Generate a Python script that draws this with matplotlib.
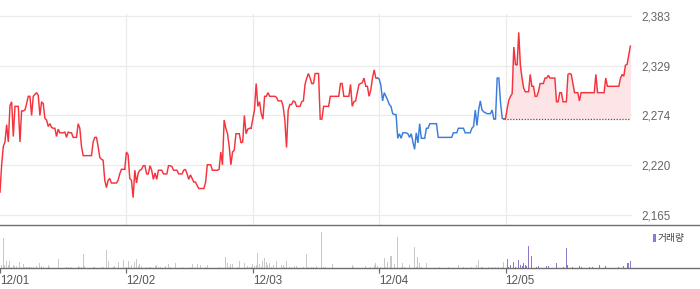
import matplotlib
matplotlib.use("Agg")
import matplotlib.pyplot as plt
from matplotlib.lines import Line2D
from matplotlib.patches import Rectangle
import numpy as np

plt.rcParams['font.family'] = ['Liberation Sans', 'Noto Sans CJK KR', 'DejaVu Sans']

# ---------------- data ----------------
dates = ["12/01", "12/02", "12/03", "12/04", "12/05"]

price_1201 = [2190, 2220, 2240, 2245, 2264, 2245, 2285, 2289, 2251, 2284,
              2284, 2284, 2245, 2279, 2279, 2280, 2287, 2295, 2295, 2274,
              2295, 2297, 2299, 2296, 2274, 2289, 2287, 2271, 2269, 2262,
              2265, 2261, 2260, 2260, 2251, 2259, 2255, 2255, 2255, 2256,
              2250, 2256, 2255, 2255, 2250, 2250, 2250, 2265, 2260, 2240,
              2230, 2230, 2230, 2230, 2230, 2230, 2245, 2250, 2250, 2240,
              2228, 2226, 2225, 2203, 2195, 2203, 2205, 2200, 2200, 2200,
              2200, 2203, 2210, 2215, 2215, 2215]
price_1202 = [2234, 2231, 2205, 2203, 2184, 2214, 2200, 2211, 2214, 2215,
              2219, 2219, 2210, 2210, 2219, 2214, 2204, 2211, 2204, 2214,
              2214, 2214, 2210, 2210, 2210, 2219, 2219, 2218, 2214, 2214,
              2214, 2210, 2210, 2210, 2214, 2215, 2210, 2204, 2209, 2205,
              2201, 2201, 2197, 2194, 2194, 2194, 2194, 2201, 2220, 2220,
              2220, 2214, 2214, 2214, 2214, 2215, 2234, 2220, 2269, 2260,
              2254, 2240, 2220, 2234, 2236, 2254, 2254, 2254, 2244, 2245,
              2274, 2254, 2259, 2260, 2260]
price_1203 = [2270, 2280, 2309, 2284, 2289, 2276, 2270, 2295, 2295, 2299,
              2295, 2295, 2295, 2295, 2294, 2290, 2290, 2290, 2284, 2269,
              2239, 2280, 2286, 2286, 2290, 2289, 2284, 2284, 2284, 2289,
              2290, 2308, 2315, 2320, 2315, 2309, 2309, 2320, 2320, 2320,
              2270, 2270, 2284, 2284, 2284, 2284, 2295, 2295, 2295, 2295,
              2295, 2295, 2309, 2309, 2295, 2295, 2295, 2295, 2308, 2284,
              2289, 2290, 2299, 2308, 2309, 2310, 2315, 2306, 2306, 2295,
              2302, 2315, 2324, 2315, 2315]
price_1204 = [2314, 2307, 2290, 2299, 2295, 2291, 2286, 2284, 2276, 2275,
              2275, 2249, 2254, 2249, 2255, 2255, 2255, 2254, 2250, 2254,
              2245, 2237, 2255, 2244, 2265, 2249, 2249, 2249, 2260, 2260,
              2265, 2265, 2265, 2265, 2265, 2250, 2250, 2250, 2250, 2250,
              2250, 2250, 2250, 2250, 2255, 2255, 2255, 2260, 2260, 2260,
              2260, 2255, 2255, 2255, 2255, 2260, 2262, 2280, 2263, 2280,
              2290, 2280, 2278, 2277, 2276, 2276, 2276, 2280, 2270, 2270,
              2315, 2315, 2288, 2271, 2270]
price_1205 = [2271, 2282, 2291, 2295, 2298, 2349, 2330, 2329, 2365, 2329,
              2315, 2304, 2300, 2300, 2300, 2319, 2306, 2306, 2295, 2295,
              2300, 2309, 2309, 2309, 2315, 2315, 2318, 2315, 2315, 2315,
              2315, 2289, 2289, 2299, 2299, 2289, 2289, 2289, 2319, 2320,
              2319, 2309, 2299, 2299, 2299, 2290, 2299, 2299, 2299, 2299,
              2299, 2299, 2299, 2299, 2299, 2319, 2299, 2299, 2299, 2299,
              2299, 2315, 2306, 2306, 2306, 2306, 2306, 2306, 2306, 2306,
              2315, 2319, 2317, 2329, 2330, 2340, 2350]

vol_1201 = [0, 3, 30, 3.7, 7, 3, 7, 1, 3.7, 2, 2, 0, 6.3, 1.7, 4.3, 1.7, 1, 1, 1, 1,
            1, 0, 2, 0, 5.3, 2.7, 1.3, 0, 0, 3, 1, 0, 0, 0, 0, 9.3, 0, 0, 0, 0,
            1, 1, 0, 1, 0, 0, 0, 2, 1.3, 1, 14.3, 2, 0, 0, 0, 0, 1, 1, 0, 0,
            0, 1, 1, 0, 18.3, 7.7, 0, 0, 1, 2, 0, 6.3, 0, 0, 8, 0]
vol_1202 = [1, 7.7, 1, 3, 0, 6.3, 9, 2, 4.3, 2.3, 0, 0, 1, 0, 1, 0, 0, 2.3, 3.3, 1,
            1, 0, 0, 2.3, 0, 4.3, 1, 0, 0, 5.3, 0, 0, 0, 1, 0, 0, 0, 0, 1, 4.3,
            0, 1, 4.3, 0, 3.3, 0, 0, 1, 3.3, 0, 0, 0, 0, 0, 0, 1, 0, 0, 0, 11.3,
            5.3, 1, 4.3, 4.3, 0, 0, 1, 7.3, 0, 0, 5.3, 0, 2.7, 1, 1]
vol_1203 = [4.3, 2.7, 3.3, 15.3, 4.3, 1, 7, 10, 6, 3.3, 5.3, 1, 3.3, 0, 7.3, 0, 0, 3.3, 3.3, 1,
            7.3, 0, 1, 1, 0, 2, 2, 0, 0, 0, 1, 0, 14.3, 1, 0, 1, 1, 0, 2, 0,
            0, 36.3, 1, 1, 0, 0, 0, 4.3, 0, 0, 0, 0, 0, 0, 0, 0, 0, 0, 0, 3.3,
            1, 0, 0, 0, 0, 0, 0, 2, 0, 0, 1, 0, 3.3, 5.3, 2]
vol_1204 = [0, 1, 0, 10.3, 1, 6.3, 0, 12.3, 0, 4.3, 0, 31.3, 0, 1, 5.3, 1, 0, 0, 3.3, 0,
            0, 21.3, 1, 11.3, 5.3, 1, 0, 0, 5.3, 0, 0, 0, 0, 0, 0, 0, 1, 0, 0, 0,
            0, 1, 0, 0, 0, 0, 0, 3.3, 0, 0, 1, 0, 0, 0, 0, 1, 0, 0, 3.3, 8.3,
            0, 1, 0, 0, 0, 1, 0, 1, 0, 1, 0, 1, 0, 1, 6.3]
vol_1205 = [0, 9, 1, 3.3, 0, 6.3, 1, 0, 8.3, 3.3, 2.7, 5.3, 3, 2.7, 22.3, 0, 12.3, 0, 0, 1,
            2, 0, 0, 0, 0, 2, 2, 0, 0, 0, 0, 5.3, 0, 0, 0, 1, 0, 20.3, 3.3, 0,
            0, 1, 0, 0, 0, 2, 1, 0, 0, 0, 0, 1, 0, 1, 0, 0, 0, 3.3, 0, 0,
            0, 2, 0, 0, 0, 0, 0, 0, 0, 1, 0, 0, 2, 0, 5.3, 5.3, 7.3]

ytick_values = [2165, 2219.5, 2274, 2328.5, 2383]
ytick_labels = ["2,165", "2,220", "2,274", "2,329", "2,383"]
legend_label = "거래량"

prices = [price_1201, price_1202, price_1203, price_1204, price_1205]
vols = [vol_1201, vol_1202, vol_1203, vol_1204, vol_1205]

# ---------------- style ----------------
RED = "#f4333d"
BLUE = "#3b7ddb"
FILL = "#fde4e6"
GRID = "#ebebeb"
SEP = "#6e6e6e"
VOL_GREY = "#c9c9c9"
VOL_PURPLE = "#9077c9"
TXT = "#555555"

W, H = 700, 289
fig = plt.figure(figsize=(W / 100, H / 100), dpi=100)


def frame(left, top, w, h):
    return [left / W, 1 - (top + h) / H, w / W, h / H]


ax = fig.add_axes(frame(0, 14, 632, 211))
axv = fig.add_axes(frame(0, 229, 632, 39.3))

n_days = len(prices)
prev_x, prev_y = None, None
for d, (p, v) in enumerate(zip(prices, vols)):
    n = len(p)
    x = d + np.arange(n) / n
    up = d == 0 or p[-1] >= prices[d - 1][-1]
    color = RED if up else BLUE
    if prev_x is not None:
        xs = np.concatenate([[prev_x], x])
        ys = np.concatenate([[prev_y], p])
    else:
        xs, ys = x, np.array(p)
    if d == n_days - 1:
        base = prices[d - 1][-1]
        ax.fill_between(xs, ys, base, color=FILL, lw=0, zorder=1)
        ax.hlines(base, xs[0], xs[-1], colors="#555555", linestyles=(0, (1, 1.3)),
                  lw=0.9, zorder=2)
    ax.plot(xs, ys, color=color, lw=1.05, zorder=3, solid_joinstyle="miter")
    prev_x, prev_y = x[-1], p[-1]
    bar_color = VOL_PURPLE if d == n_days - 1 else VOL_GREY
    axv.bar(x, v, width=0.6 / n, color=bar_color, lw=0, align="center")

# main axes
ax.set_xlim(0, n_days)
ax.set_ylim(2154.0, 2385.2)
for d in range(1, n_days):
    ax.axvline(d, color=GRID, lw=0.9, zorder=0)
ax.set_yticks(ytick_values)
ax.set_yticklabels(ytick_labels)
ax.yaxis.tick_right()
ax.tick_params(axis="y", length=0, pad=6.5, labelsize=8.4, labelcolor="#666666")
ax.tick_params(axis="x", bottom=False, labelbottom=False)
ax.grid(axis="y", color=GRID, lw=0.9, zorder=0)
for s in ax.spines.values():
    s.set_visible(False)

# volume axes
axv.set_xlim(0, n_days)
axv.set_ylim(0, 39.3)
axv.set_yticks([])
axv.set_xticks(range(n_days))
axv.set_xticklabels(dates, ha="left")
axv.tick_params(axis="x", direction="out", length=3.6, width=0.9, color=SEP,
                labelsize=8.4, labelcolor=TXT, pad=1.5)
for s in axv.spines.values():
    s.set_visible(False)

# separator lines spanning the full width
for ypx in (225, 268.3):
    fig.add_artist(Line2D([0, 1], [1 - ypx / H] * 2, transform=fig.transFigure,
                          color=SEP, lw=1.0))

# legend
fig.add_artist(Rectangle((653 / W, 1 - 241.5 / H), 3 / W, 8 / H, transform=fig.transFigure,
                         color=VOL_PURPLE, lw=0))
fig.text(658 / W, 1 - 237.5 / H, legend_label, fontsize=7, color="#444444",
         va="center", ha="left", family=["Noto Sans CJK KR", "DejaVu Sans"])

fig.savefig("out.png", dpi=100)
